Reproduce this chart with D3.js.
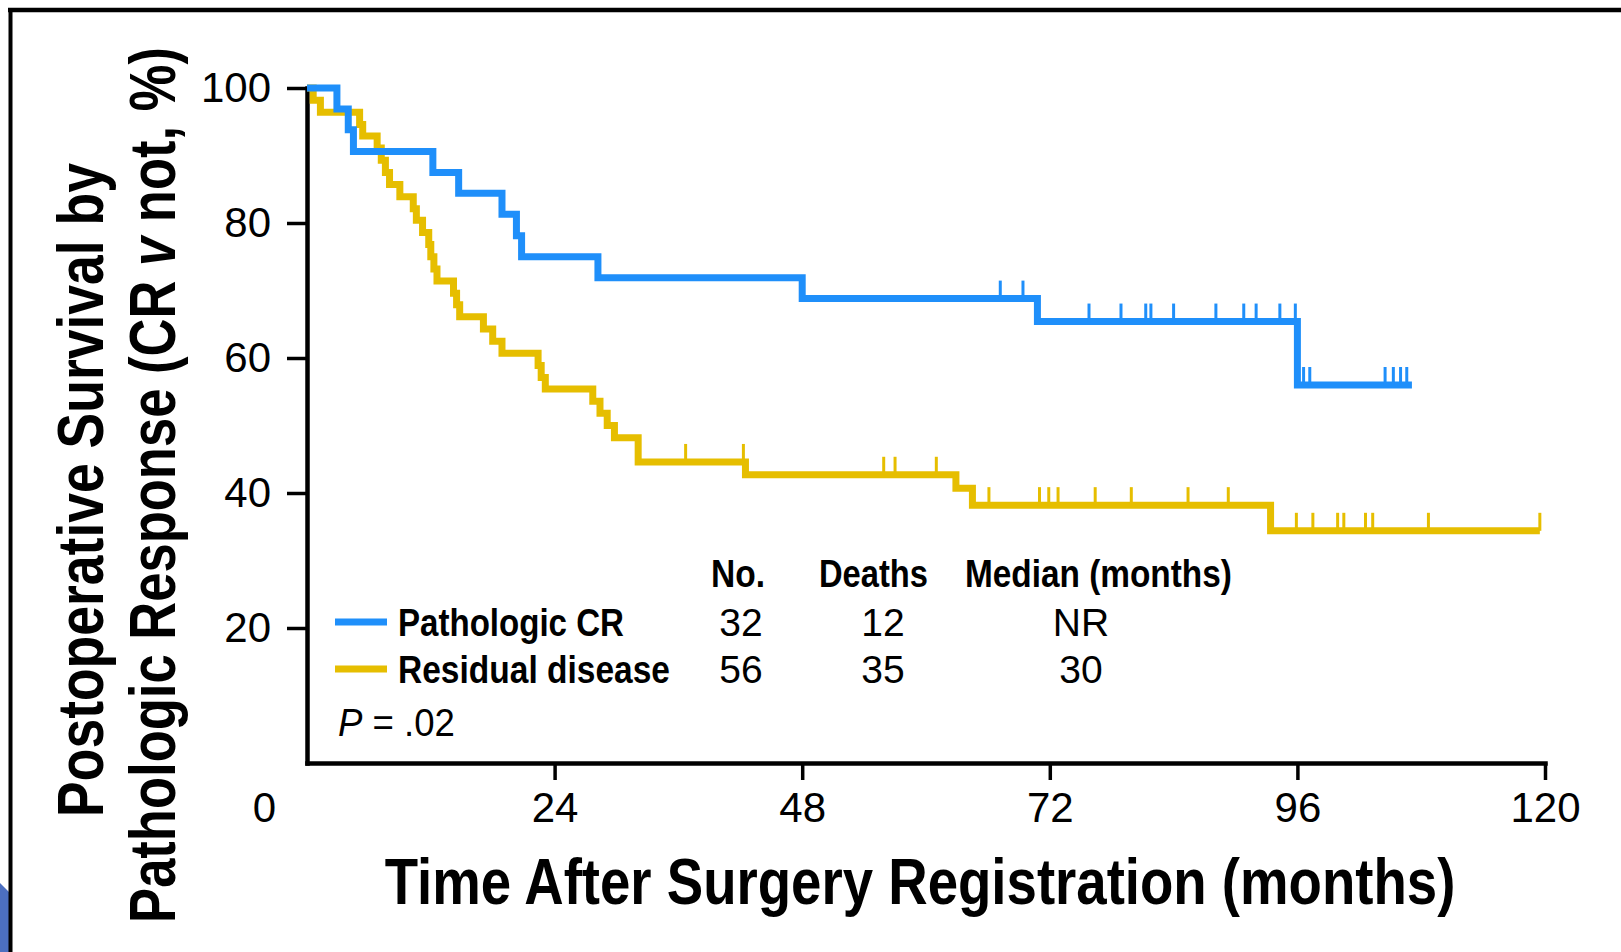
<!DOCTYPE html>
<html>
<head>
<meta charset="utf-8">
<script src="https://cdn.jsdelivr.net/npm/d3@7"></script>
<style>
  html, body { margin: 0; padding: 0; background: #fff; }
  svg { display: block; }
</style>
</head>
<body>
<svg id="chart" width="1621" height="952"></svg>
<script>
// Kaplan-Meier step data: time (months) of each drop and survival (%) after it
const crTimes = [0, 2.9, 4.0, 4.5, 12.2, 14.7, 18.9, 20.3, 20.8, 28.2, 48.0, 70.8, 96.0];
const crSurv  = [100, 96.9, 93.8, 90.6, 87.5, 84.4, 81.3, 78.1, 75.0, 71.9, 68.8, 65.4, 56.0];
const crEnd = 107.1;
const crCensored = [67.2, 69.4, 75.8, 78.9, 81.3, 81.8, 84.0, 88.1, 90.8, 92.0, 94.3, 95.8,
                    96.6, 97.2, 104.5, 105.3, 106.0, 106.6];

const rdTimes = [0, 0.6, 1.3, 5.1, 5.4, 6.8, 7.2, 7.6, 8.0, 9.0, 10.3, 10.6, 11.2, 11.8, 12.0,
                 12.3, 12.6, 14.2, 14.5, 14.8, 17.1, 18.0, 18.9, 22.4, 22.7, 23.1, 27.7, 28.4,
                 29.1, 29.8, 32.1, 42.5, 62.9, 64.5, 93.4];
const rdSurv  = [100, 98.2, 96.4, 94.6, 92.9, 91.1, 89.3, 87.5, 85.7, 83.9, 82.1, 80.4, 78.6,
                 76.8, 75.0, 73.2, 71.4, 69.6, 67.9, 66.1, 64.3, 62.5, 60.7, 58.9, 57.1, 55.4,
                 53.6, 51.8, 50.0, 48.2, 44.6, 42.7, 40.7, 38.2, 34.4];
const rdEnd = 119.5;
const rdCensored = [36.7, 42.3, 55.9, 57.0, 61.0, 66.1, 71.0, 71.9, 72.8, 76.4, 79.9, 85.4, 89.3,
                    95.9, 97.5, 99.9, 100.5, 102.6, 103.3, 108.7, 119.5];

// Tick labels and the summary table
const xTicks = [24, 48, 72, 96, 120];
const yTicks = [20, 40, 60, 80, 100];
const groupNames = ["Pathologic CR", "Residual disease"];
const groupNo = ["32", "56"];
const groupDeaths = ["12", "35"];
const groupMedian = ["NR", "30"];
const tableHeaders = ["No.", "Deaths", "Median (months)"];

const BLUE = "#1f8ffa";
const YELLOW = "#e6be00";
const FONT = "'Liberation Sans', Arial, Helvetica, sans-serif";

const svg = d3.select("#chart");

// page frame
svg.append("rect").attr("x", 0).attr("y", 0).attr("width", 1621).attr("height", 952).attr("fill", "#fff");
svg.append("polygon")
  .attr("points", "0,883 10,893 10,952 0,952")
  .attr("fill", "#4c6fc0");
svg.append("line").attr("x1", 8).attr("x2", 1621).attr("y1", 10).attr("y2", 10)
  .attr("stroke", "#000").attr("stroke-width", 4.5);
svg.append("line").attr("x1", 10.5).attr("x2", 10.5).attr("y1", 8).attr("y2", 952)
  .attr("stroke", "#000").attr("stroke-width", 4);

const x = d3.scaleLinear().domain([0, 120]).range([307, 1545]);
const y = d3.scaleLinear().domain([0, 100]).range([763, 88]);

// axes
const gx = svg.append("g").attr("transform", `translate(0,${y(0)})`)
  .call(d3.axisBottom(x).tickValues(xTicks).tickSize(17).tickPadding(12).tickSizeOuter(0));
const gy = svg.append("g").attr("transform", `translate(${x(0)},0)`)
  .call(d3.axisLeft(y).tickValues(yTicks).tickSize(20).tickPadding(16).tickSizeOuter(0));
[gx, gy].forEach(g => {
  g.select(".domain").attr("stroke", "#000").attr("stroke-width", 4.5).attr("stroke-linecap", "square");
  g.selectAll(".tick line").attr("stroke", "#000").attr("stroke-width", 3.5);
  g.selectAll(".tick text").attr("fill", "#000").attr("font-family", FONT).attr("font-size", 42);
});
// shared origin label
svg.append("text").attr("x", 276).attr("y", 822).attr("text-anchor", "end")
  .attr("font-family", FONT).attr("font-size", 42).attr("fill", "#000").text("0");

// survival curves
function stepPoints(times, surv, end) {
  const pts = times.map((t, i) => [t, surv[i]]);
  pts.push([end, surv[surv.length - 1]]);
  return pts;
}
function survAt(times, surv, t) {
  let s = surv[0];
  for (let i = 0; i < times.length; i++) if (times[i] <= t) s = surv[i];
  return s;
}
const line = d3.line().x(d => x(d[0])).y(d => y(d[1])).curve(d3.curveStepAfter);

const groups = [
  { times: crTimes, surv: crSurv, end: crEnd, cens: crCensored, color: BLUE },
  { times: rdTimes, surv: rdSurv, end: rdEnd, cens: rdCensored, color: YELLOW }
];
groups.slice().reverse().forEach(g => {
  svg.append("path")
    .attr("d", line(stepPoints(g.times, g.surv, g.end)))
    .attr("fill", "none").attr("stroke", g.color).attr("stroke-width", 7)
    .attr("stroke-linejoin", "miter");
  svg.append("g").selectAll("line").data(g.cens).join("line")
    .attr("x1", d => x(d)).attr("x2", d => x(d))
    .attr("y1", d => y(survAt(g.times, g.surv, d)))
    .attr("y2", d => y(survAt(g.times, g.surv, d)) - 18)
    .attr("stroke", g.color).attr("stroke-width", 3);
});

// condensed text: draw at natural width, then squeeze horizontally to the wanted width
function condensed(parent, cx, cy, width, anchor, size, bold, parts, rotate) {
  const g = parent.append("g");
  const t = g.append("text")
    .attr("font-family", FONT).attr("font-size", size).attr("fill", "#000")
    .attr("font-weight", bold ? "bold" : "normal").attr("text-anchor", anchor);
  parts.forEach(p => t.append("tspan").attr("font-style", p.italic ? "italic" : "normal").text(p.text));
  const natural = t.node().getComputedTextLength();
  const k = width / natural;
  g.attr("transform", `translate(${cx},${cy})` + (rotate ? " rotate(-90)" : "") + ` scale(${k},1)`);
  return g;
}

// axis titles
condensed(svg, 920, 904, 1071, "middle", 64, true,
  [{ text: "Time After Surgery Registration (months)" }]);
condensed(svg, 103, 490, 654, "middle", 64, true,
  [{ text: "Postoperative Survival by" }], true);
condensed(svg, 175, 485, 876, "middle", 64, true,
  [{ text: "Pathologic Response (CR " }, { text: "v", italic: true }, { text: " not, %)" }], true);

// summary table / legend
const headerX = [711, 819, 965];
const headerW = [54, 109, 267];
tableHeaders.forEach((h, i) => {
  condensed(svg, headerX[i], 587, headerW[i], "start", 39, true, [{ text: h }]);
});
const rowY = [636, 683];
const nameW = [226, 272];
const colors = [BLUE, YELLOW];
groupNames.forEach((name, i) => {
  svg.append("line").attr("x1", 335).attr("x2", 387)
    .attr("y1", rowY[i] - 14).attr("y2", rowY[i] - 14)
    .attr("stroke", colors[i]).attr("stroke-width", 7);
  condensed(svg, 398, rowY[i], nameW[i], "start", 39, true, [{ text: name }]);
  [[groupNo[i], 741], [groupDeaths[i], 883], [groupMedian[i], 1081]].forEach(([v, cx]) => {
    svg.append("text").attr("x", cx).attr("y", rowY[i]).attr("text-anchor", "middle")
      .attr("font-family", FONT).attr("font-size", 39).attr("fill", "#000").text(v);
  });
});
condensed(svg, 338, 736, 117, "start", 39, false,
  [{ text: "P", italic: true }, { text: " = .02" }]);
</script>
</body>
</html>
